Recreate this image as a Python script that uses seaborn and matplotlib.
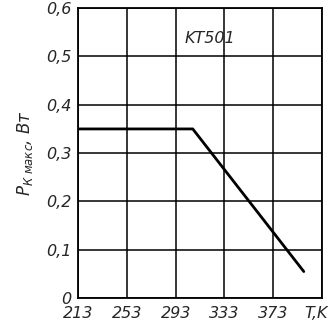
import matplotlib
matplotlib.use("Agg")
import matplotlib.pyplot as plt
import seaborn as sns
import pandas as pd

# data
temp_k = [213, 307, 398]
p_max = [0.35, 0.35, 0.055]
x_ticks = [213, 253, 293, 333, 373, 413]
x_labels = ["213", "253", "293", "333", "373", ""]
y_ticks = [0, 0.1, 0.2, 0.3, 0.4, 0.5, 0.6]
y_labels = ["0", "0,1", "0,2", "0,3", "0,4", "0,5", "0,6"]

sns.set_style("white")
plt.rcParams["font.family"] = ["DejaVu Sans"]

fig = plt.figure(figsize=(3.28, 3.23), dpi=100)
ax = fig.add_axes([0.238, 0.077, 0.744, 0.898])

df = pd.DataFrame({"T": temp_k, "P": p_max})
sns.lineplot(data=df, x="T", y="P", ax=ax, color="black", linewidth=2.0)

ax.set_xlim(213, 413)
ax.set_ylim(0, 0.6)
ax.set_xticks(x_ticks)
ax.set_xticklabels(x_labels, fontsize=11.5, style="italic")
ax.set_yticks(y_ticks)
ax.set_yticklabels(y_labels, fontsize=11.5, style="italic")
ax.tick_params(axis="x", length=0, pad=6)
ax.tick_params(axis="y", length=0, pad=5)
ax.grid(True, color="black", linewidth=1.1)
for s in ax.spines.values():
    s.set_color("black")
    s.set_linewidth(1.3)

ax.set_xlabel("")
ax.set_ylabel(r"$P_{К\ макс}$, Вт", fontsize=12, style="italic", labelpad=8)
ax.text(0.998, 0.006, "T,K", transform=fig.transFigure, fontsize=11.5,
        style="italic", ha="right", va="bottom")
ax.text(321, 0.538, "KT501", fontsize=11.5, style="italic", ha="center", va="center")

fig.savefig("out.png", dpi=100)
